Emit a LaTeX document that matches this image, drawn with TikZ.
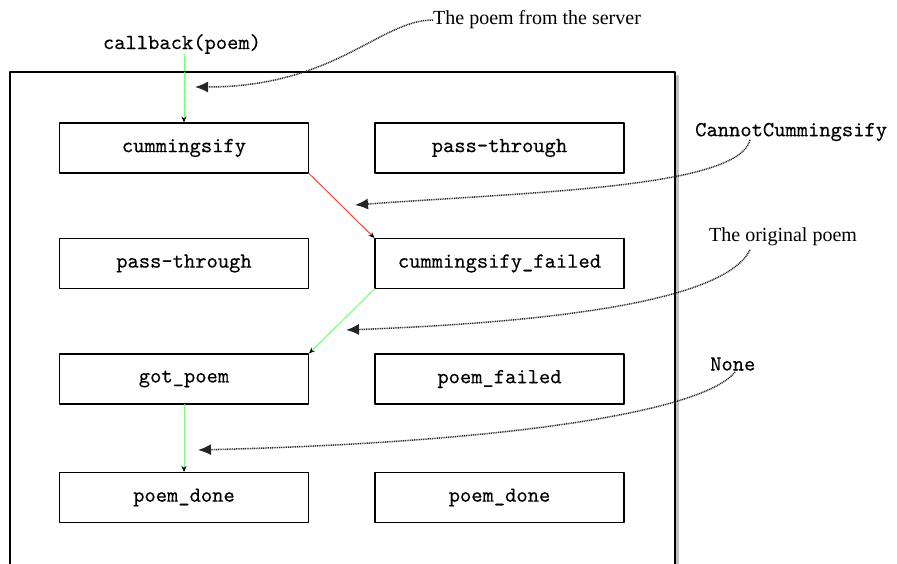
\documentclass[tikz,border=0pt]{standalone}
\usepackage{fontspec}
\setmainfont{Liberation Serif}
\setmonofont{lmmono10-regular.otf}[FakeBold=0.3]
\usetikzlibrary{arrows.meta}

\begin{document}
\begin{tikzpicture}[x=1pt, y=-1pt, line join = round, line cap = round,
    fn/.style={draw, line width=1.1pt, minimum width=249pt, minimum height=50pt,
        font=\fontsize{21.5}{22}\selectfont\ttfamily},
    note/.style={inner sep=0pt},
    flow/.style={line width=1pt, -{Stealth[black, length=6pt, width=5pt]}},
    remark/.style={line cap=butt, dash pattern=on 1pt off 0.8pt, line width=1.5pt,
        black!85, -{Latex[length=13pt, width=11pt]}}]
    \useasboundingbox (0,0) rectangle (897,564);

    % outer frame, open at the bottom
    \draw[line width=2.5pt, black!25] (677.5,76) -- (677.5,570);
    \draw[line width=2.8pt] (10,570) -- (10,72) -- (675,72) -- (675,570);

    % the callback chain
    \node[fn] (cum)  at (184,148)   {cummingsify};
    \node[fn] (pass) at (499.5,148)   {pass-through};
    \node[fn] (pass2) at (184,263.5) {pass-through};
    \node[fn] (fail) at (499.5,263.5) {cummingsify\_failed};
    \node[fn] (got)  at (184,379)   {got\_poem};
    \node[fn] (pfail) at (499.5,379)  {poem\_failed};
    \node[fn] (done) at (184,497.5) {poem\_done};
    \node[fn] (done2) at (499.5,497.5) {poem\_done};

    \node[note, font=\fontsize{21.5}{22}\selectfont\ttfamily] (cb) at (182,44) {callback(poem)};
    \node[note, anchor=west, font=\fontsize{20}{22}\selectfont] (srv) at (433,20) {The poem from the server};
    \node[note, anchor=west, font=\fontsize{21.5}{22}\selectfont\ttfamily] (exc) at (695,132) {CannotCummingsify};
    \node[note, anchor=west, font=\fontsize{20}{22}\selectfont] (orig) at (709,237) {The original poem};
    \node[note, anchor=west, font=\fontsize{21.5}{22}\selectfont\ttfamily] (none) at (710,364) {None};

    \coordinate (t1) at (195,87);
    \coordinate (t2) at (355,205);
    \coordinate (t3) at (346,330);
    \coordinate (t4) at (198,450);

    \draw[flow, green!70, line cap=butt, dash pattern=on 1pt off 1pt] (cb.south -| cum.north) -- (cum.north);
    \draw[flow, red!75] (cum.south east) -- (fail.north west);
    \draw[flow, green!55] (fail.south west) -- (got.north east);
    \draw[flow, green!55] (got.south) -- (done.north);

    \draw[remark] (srv.west) .. controls (380,20) and (335,87) .. (t1);
    \draw[remark] (750,140) .. controls (738,188) and (530,192) .. (t2);
    \draw[remark] (750,250) .. controls (725,300) and (560,322) .. (t3);
    \draw[remark] (735,372) .. controls (705,410) and (520,442) .. (t4);
\end{tikzpicture}
\end{document}
